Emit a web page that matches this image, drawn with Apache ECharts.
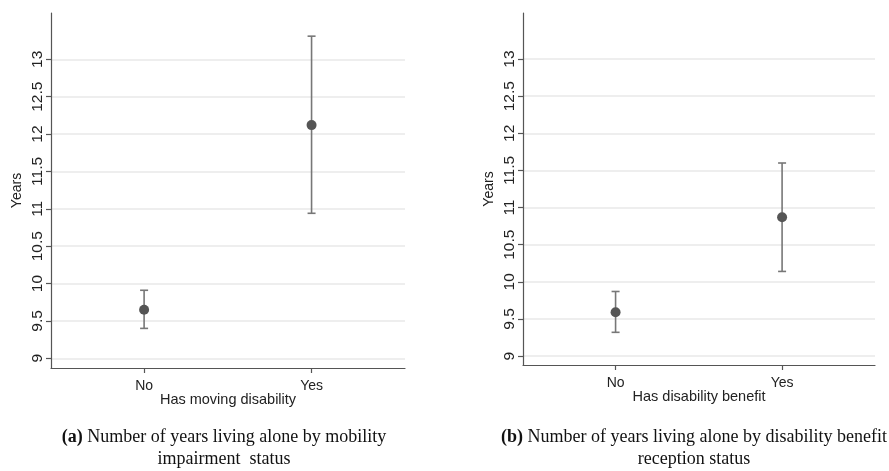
<!DOCTYPE html>
<html lang="en">
<head>
    <meta charset="UTF-8">
    <script src="https://cdn.jsdelivr.net/npm/echarts@6.0.0/dist/echarts.min.js"></script>
    <title>Years living alone by disability status</title>
    <style>
        body { margin: 0; background: #fff; }
    </style>
</head>
<body>
    <div id="main" style="width: 889px;height:471px;"></div>
    <script type="text/javascript">

        // category labels on the x axis (placed at 0 and 1)
        const groups = ['No', 'Yes'];
        const yTicks = [9, 9.5, 10, 10.5, 11, 11.5, 12, 12.5, 13];

        // (a) mobility impairment
        const meanA = [9.65, 12.12];
        const lowA = [9.40, 10.94];
        const highA = [9.91, 13.31];

        // (b) disability benefit
        const meanB = [9.59, 10.87];
        const lowB = [9.32, 10.14];
        const highB = [9.87, 11.60];

        let myChart = echarts.init(document.getElementById('main'));

        const sans = 'Liberation Sans, Arial, sans-serif';

        function xAxisFor(gridIndex, name) {
            return {
                type: 'value', gridIndex: gridIndex,
                min: -0.556, max: 1.558,
                name: name, nameLocation: 'middle', nameGap: 24, nameMoveOverlap: false,
                nameTextStyle: { fontFamily: sans, fontSize: 14.5, color: '#222' },
                axisLine: { show: true, onZero: false, lineStyle: { color: '#555', width: 1.2 } },
                axisTick: { show: true, length: 5, customValues: [0, 1], lineStyle: { color: '#555', width: 1.2 } },
                axisLabel: {
                    customValues: [0, 1], margin: 11,
                    fontFamily: sans, fontSize: 14, color: '#222',
                    formatter: (v) => groups[Math.round(v)]
                },
                splitLine: { show: false }
            };
        }

        function yAxisFor(gridIndex, min, max) {
            return {
                type: 'value', gridIndex: gridIndex,
                min: min, max: max,
                name: 'Years', nameLocation: 'middle', nameGap: 27,
                nameTextStyle: { fontFamily: sans, fontSize: 14, color: '#222' },
                axisLine: { show: true, onZero: false, lineStyle: { color: '#555', width: 1.2 } },
                axisTick: { show: true, length: 5, customValues: yTicks, lineStyle: { color: '#555', width: 1.2 } },
                axisLabel: {
                    customValues: yTicks, rotate: 90, margin: 5,
                    fontFamily: sans, fontSize: 15.5, color: '#222'
                },
                splitLine: { show: true, lineStyle: { color: '#e8e8e8', width: 1.5 } }
            };
        }

        // error bar with caps, drawn through the axes' own coordinates
        function errorBar(params, api) {
            const x = api.value(0);
            const p1 = api.coord([x, api.value(1)]);
            const p2 = api.coord([x, api.value(2)]);
            const w = 4;
            const style = { stroke: '#777', lineWidth: 1.6 };
            return {
                type: 'group',
                children: [
                    { type: 'line', shape: { x1: p1[0], y1: p1[1], x2: p2[0], y2: p2[1] }, style: style },
                    { type: 'line', shape: { x1: p1[0] - w, y1: p1[1], x2: p1[0] + w, y2: p1[1] }, style: style },
                    { type: 'line', shape: { x1: p2[0] - w, y1: p2[1], x2: p2[0] + w, y2: p2[1] }, style: style }
                ]
            };
        }

        function barData(low, high) {
            return low.map((l, i) => [i, l, high[i]]);
        }
        function pointData(mean) {
            return mean.map((m, i) => [i, m]);
        }

        const serif = 'Liberation Serif, Times New Roman, serif';
        const captionRich = {
            b: { fontFamily: serif, fontSize: 18, fontWeight: 'bold', color: '#111', lineHeight: 22 },
            n: { fontFamily: serif, fontSize: 18, fontWeight: 'normal', color: '#111', lineHeight: 22 }
        };

        options = {
            animation: false,
            backgroundColor: '#fff',
            title: [
                {
                    text: '{b|(a)}{n| Number of years living alone by mobility}\n{n|impairment  status}',
                    left: 224, top: 426, textAlign: 'center', padding: 0,
                    textStyle: { fontWeight: 'normal', rich: captionRich }
                },
                {
                    text: '{b|(b)}{n| Number of years living alone by disability benefit}\n{n|reception status}',
                    left: 694, top: 426, textAlign: 'center', padding: 0,
                    textStyle: { fontWeight: 'normal', rich: captionRich }
                }
            ],
            grid: [
                { left: 51, right: 484, top: 13, bottom: 103 },
                { left: 523, right: 14, top: 13, bottom: 106 }
            ],
            xAxis: [
                xAxisFor(0, 'Has moving disability'),
                xAxisFor(1, 'Has disability benefit')
            ],
            yAxis: [
                yAxisFor(0, 8.87, 13.62),
                yAxisFor(1, 8.88, 13.62)
            ],
            series: [
                { type: 'custom', xAxisIndex: 0, yAxisIndex: 0, renderItem: errorBar, data: barData(lowA, highA), z: 2 },
                { type: 'custom', xAxisIndex: 1, yAxisIndex: 1, renderItem: errorBar, data: barData(lowB, highB), z: 2 },
                { type: 'scatter', xAxisIndex: 0, yAxisIndex: 0, symbolSize: 10, itemStyle: { color: '#555', opacity: 1 }, data: pointData(meanA), z: 3 },
                { type: 'scatter', xAxisIndex: 1, yAxisIndex: 1, symbolSize: 10, itemStyle: { color: '#555', opacity: 1 }, data: pointData(meanB), z: 3 }
            ]
        };
        myChart.setOption(options);
    </script>
</body>
</html>
